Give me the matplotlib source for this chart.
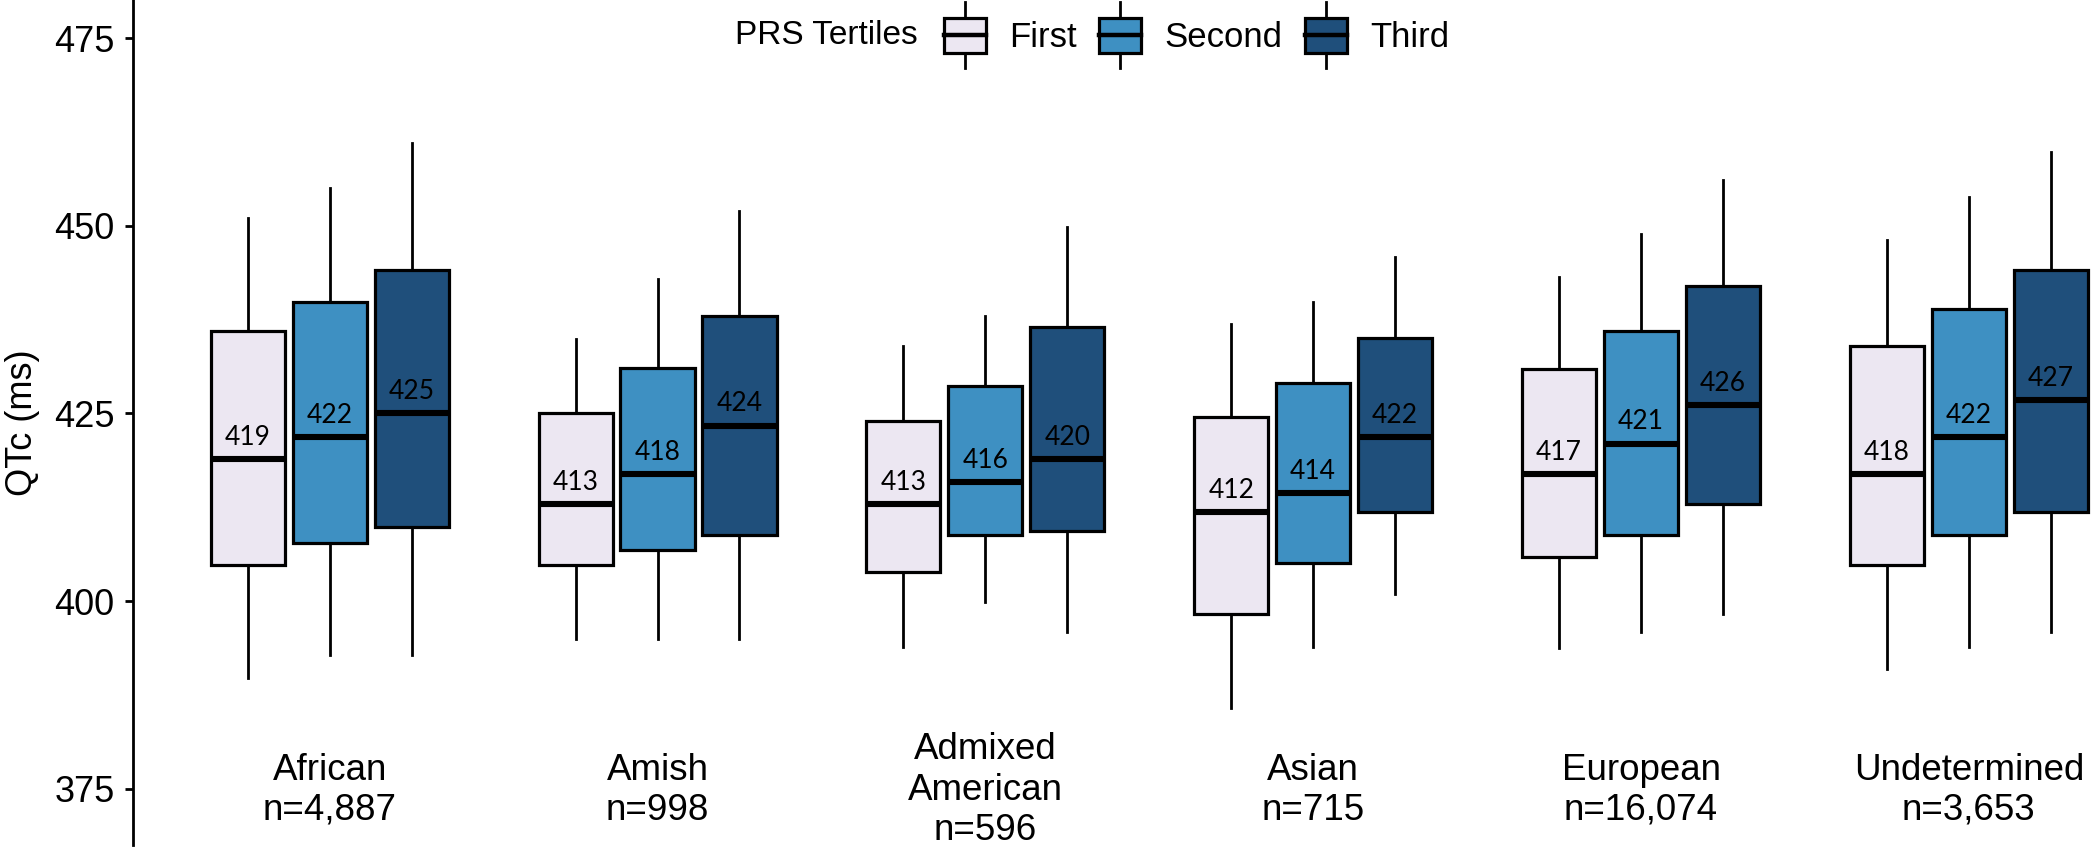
import numpy as np
import matplotlib
matplotlib.use("Agg")
import matplotlib.pyplot as plt
from matplotlib.patches import Patch, Rectangle
from matplotlib.lines import Line2D
from matplotlib.legend_handler import HandlerBase

plt.rcParams['font.family'] = ['Liberation Sans', 'DejaVu Sans']

# ---------------- data ----------------
groups = ["African\nn=4,887", "Amish\nn=998", "Admixed\nAmerican\nn=596",
          "Asian\nn=715", "European\nn=16,074", "Undetermined\nn=3,653"]
tertiles = ["First", "Second", "Third"]
colors = ["#ECE7F2", "#3E90C2", "#1F4F7B"]

first_whislo = [389.8, 394.9, 393.9, 385.8, 393.8, 390.9]
first_q1     = [404.8, 404.8, 403.9, 398.3, 405.9, 404.8]
first_med    = [418.9, 412.9, 412.9, 411.9, 416.9, 416.9]
first_q3     = [436.0, 425.0, 424.0, 424.5, 430.9, 434.0]
first_whishi = [451.0, 434.9, 434.0, 436.9, 443.2, 448.1]

second_whislo = [392.8, 394.9, 399.9, 393.9, 395.9, 393.9]
second_q1     = [407.8, 406.8, 408.8, 405.1, 408.8, 408.8]
second_med    = [421.9, 416.9, 415.9, 414.4, 421.0, 421.9]
second_q3     = [439.8, 431.0, 428.6, 429.0, 436.0, 438.9]
second_whishi = [455.0, 442.9, 438.0, 439.9, 448.9, 453.9]

third_whislo = [392.8, 394.9, 395.9, 400.9, 398.3, 395.9]
third_q1     = [409.9, 408.8, 409.3, 411.9, 412.9, 411.9]
third_med    = [425.0, 423.4, 418.9, 421.9, 426.1, 426.8]
third_q3     = [444.1, 438.0, 436.5, 435.0, 442.0, 444.1]
third_whishi = [461.0, 452.0, 449.9, 445.9, 456.1, 459.8]

first_labels  = ["419", "413", "413", "412", "417", "418"]
second_labels = ["422", "418", "416", "414", "421", "422"]
third_labels  = ["425", "424", "420", "422", "426", "427"]

yticks = [375, 400, 425, 450, 475]

series = [
    (first_whislo, first_q1, first_med, first_q3, first_whishi, first_labels),
    (second_whislo, second_q1, second_med, second_q3, second_whishi, second_labels),
    (third_whislo, third_q1, third_med, third_q3, third_whishi, third_labels),
]

# ---------------- figure ----------------
W, H = 2100, 850
fig = plt.figure(figsize=(W / 100, H / 100), dpi=100)
ax = fig.add_axes([133 / W, 5 / H, 1967 / W, 845 / H])

x = np.arange(len(groups))
offsets = [-0.25, 0.0, 0.25]
bw = 0.226

for (wlo, q1, med, q3, whi, labs), off, col in zip(series, offsets, colors):
    stats = [dict(whislo=a, q1=b, med=c, q3=d, whishi=e, fliers=[])
             for a, b, c, d, e in zip(wlo, q1, med, q3, whi)]
    ax.bxp(stats, positions=x + off, widths=bw, patch_artist=True,
           showfliers=False, showcaps=False,
           boxprops=dict(facecolor=col, edgecolor='black', linewidth=2.3),
           medianprops=dict(color='black', linewidth=4.4, solid_capstyle='butt'),
           whiskerprops=dict(color='black', linewidth=2.0))
    for xi, m, t in zip(x + off, med, labs):
        ax.annotate(t, xy=(xi, m), xytext=(0, 15.6), textcoords='offset points',
                    ha='center', va='center', fontsize=19,
                    family=['Lato', 'DejaVu Sans'], color='black')

for xi, g in zip(x, groups):
    ax.text(xi, 374.8, g, ha='center', va='center', multialignment='center',
            fontsize=26.5, linespacing=1.2)

ax.set_xlim(-0.6, 5.4)
ax.set_ylim(367.5, 480.1)
ax.set_yticks(yticks)
ax.set_yticklabels([str(t) for t in yticks])
ax.set_xticks([])
for s in ['top', 'right', 'bottom']:
    ax.spines[s].set_visible(False)
ax.spines['left'].set_linewidth(2.0)
ax.tick_params(axis='y', length=5.8, width=2.0, pad=7.5, labelsize=26)
ax.set_ylabel("QTc (ms)", fontsize=26, va='center')
ax.yaxis.set_label_coords((22 - 133) / 1967, 0.5)


# ---------------- legend ----------------
class BoxHandler(HandlerBase):
    def create_artists(self, legend, orig_handle, xdescent, ydescent,
                       width, height, fontsize, trans):
        cx = -xdescent + width / 2
        cy = -ydescent + height / 2
        wl = 47.5
        whisk = Line2D([cx, cx], [cy - wl / 2, cy + wl / 2], color='black',
                       linewidth=2.0, transform=trans)
        rect = Rectangle((-xdescent, -ydescent), width, height,
                         facecolor=orig_handle.get_facecolor(),
                         edgecolor='black', linewidth=2.3, transform=trans)
        med = Line2D([-xdescent, -xdescent + width], [cy, cy], color='black',
                     linewidth=3.2, transform=trans)
        return [whisk, rect, med]


handles = [Patch(facecolor=c) for c in colors]
fig.legend(handles, tertiles, handler_map={Patch: BoxHandler()}, ncol=3,
           frameon=False, fontsize=25, loc='center left',
           bbox_to_anchor=(944 / W, 1 - 36 / H), bbox_transform=fig.transFigure,
           borderpad=0, borderaxespad=0, handlelength=1.21, handleheight=1.18,
           handletextpad=0.66, columnspacing=0.66)
fig.text(734.7 / W, 1 - 36 / H, "PRS Tertiles", ha='left', va='center', fontsize=24)

fig.savefig("out.png", dpi=100)
